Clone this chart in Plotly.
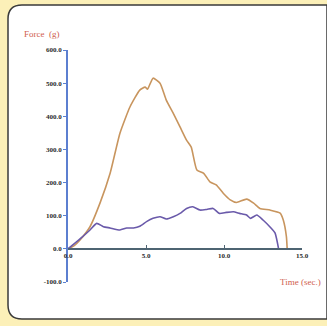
import plotly.graph_objects as go

# ---- data ----
time_a = [0, 0.4, 0.77, 1.4, 2.05, 2.7, 3.33, 3.97, 4.6, 4.94, 5.1, 5.45, 5.9, 6.3,
          6.75, 7.18, 7.6, 7.9, 8.26, 8.7, 9.1, 9.5, 9.95, 10.4, 10.8, 11.45, 11.9,
          12.3, 12.95, 13.6, 13.8, 14.0, 14.05]
force_a = [0, 10, 27, 66, 138, 228, 349, 428, 479, 488, 482, 515, 500, 449,
           409, 368, 328, 307, 238, 228, 202, 193, 168, 148, 140, 150, 138,
           122, 117, 108, 87, 37, 0]

time_b = [0, 0.77, 1.41, 1.84, 2.27, 2.7, 3.33, 3.76, 4.2, 4.6, 5.06, 5.45, 5.9,
          6.3, 6.75, 7.18, 7.6, 8.0, 8.46, 8.9, 9.3, 9.7, 10.15, 10.6, 11.0,
          11.45, 11.7, 12.1, 12.5, 12.95, 13.27, 13.5]
force_b = [0, 30, 57, 77, 67, 63, 57, 63, 63, 68, 83, 92, 97,
           90, 97, 107, 122, 127, 117, 119, 122, 107, 110, 112, 107,
           102, 92, 102, 87, 66, 48, 0]

x_ticks = [0, 5, 10, 15]
x_tick_labels = ["0.0", "5.0", "10.0", "15.0"]
y_ticks = [-100, 0, 100, 200, 300, 400, 500, 600]
y_tick_labels = ["-100.0", "0.0", "100.0", "200.0", "300.0", "400.0", "500.0", "600.0"]

W, H = 327, 326
L, R, T, B = 68, 25, 50, 44
pw, ph = W - L - R, H - T - B

def px_x(p):
    return (p - L) / pw

def px_y(p):
    return (H - B - p) / ph

fig = go.Figure()
fig.add_trace(go.Scatter(x=time_a, y=force_a, mode="lines",
                         line=dict(color="#C8955E", width=1.6, shape="spline", smoothing=0.5),
                         hoverinfo="skip"))
fig.add_trace(go.Scatter(x=time_b, y=force_b, mode="lines",
                         line=dict(color="#6A5AAA", width=1.6, shape="spline", smoothing=0.5),
                         hoverinfo="skip"))

# rounded white panel
x0, x1 = px_x(8), px_x(327)
y0, y1 = px_y(319), px_y(5)
rx, ry = 14 / pw, 14 / ph
path = (f"M {x0+rx},{y1} L {x1},{y1} L {x1},{y0} L {x0+rx},{y0} "
        f"Q {x0},{y0} {x0},{y0+ry} L {x0},{y1-ry} Q {x0},{y1} {x0+rx},{y1} Z")
fig.add_shape(type="path", path=path, xref="paper", yref="paper",
              fillcolor="white", line=dict(color="#3a3a3a", width=1.5), layer="below")

tick_font = dict(family="Liberation Serif", size=7, color="#2a2a2a", weight="bold")

fig.update_layout(
    width=W, height=H,
    margin=dict(l=L, r=R, t=T, b=B, pad=0),
    paper_bgcolor="#FCF0B8",
    plot_bgcolor="rgba(0,0,0,0)",
    showlegend=False,
    xaxis=dict(range=[min(x_ticks), max(x_ticks)], tickvals=x_ticks, ticktext=x_tick_labels,
               showgrid=False, zeroline=False, showline=True, linecolor="#4E6472",
               linewidth=2, ticks="inside", ticklen=3, tickcolor="#4E6472",
               anchor="free",
               position=(0 - min(y_ticks)) / (max(y_ticks) - min(y_ticks)),
               tickfont=tick_font, fixedrange=True),
    yaxis=dict(range=[min(y_ticks), max(y_ticks)], tickvals=y_ticks, ticktext=y_tick_labels,
               showgrid=False, zeroline=False, showline=True, linecolor="#5C7FD0",
               linewidth=1.5, ticks="outside", ticklen=3, tickcolor="#5C7FD0",
               tickfont=tick_font, fixedrange=True),
    annotations=[
        dict(text="Force  (g)", xref="paper", yref="paper", x=px_x(22), y=px_y(34),
             xanchor="left", yanchor="middle", showarrow=False,
             font=dict(family="Liberation Serif", size=9, color="#D0604E")),
        dict(text="Time (sec.)", xref="paper", yref="paper", x=px_x(323), y=px_y(282),
             xanchor="right", yanchor="middle", showarrow=False,
             font=dict(family="Liberation Serif", size=9, color="#D0604E")),
    ],
)

fig.write_html("out.html")
